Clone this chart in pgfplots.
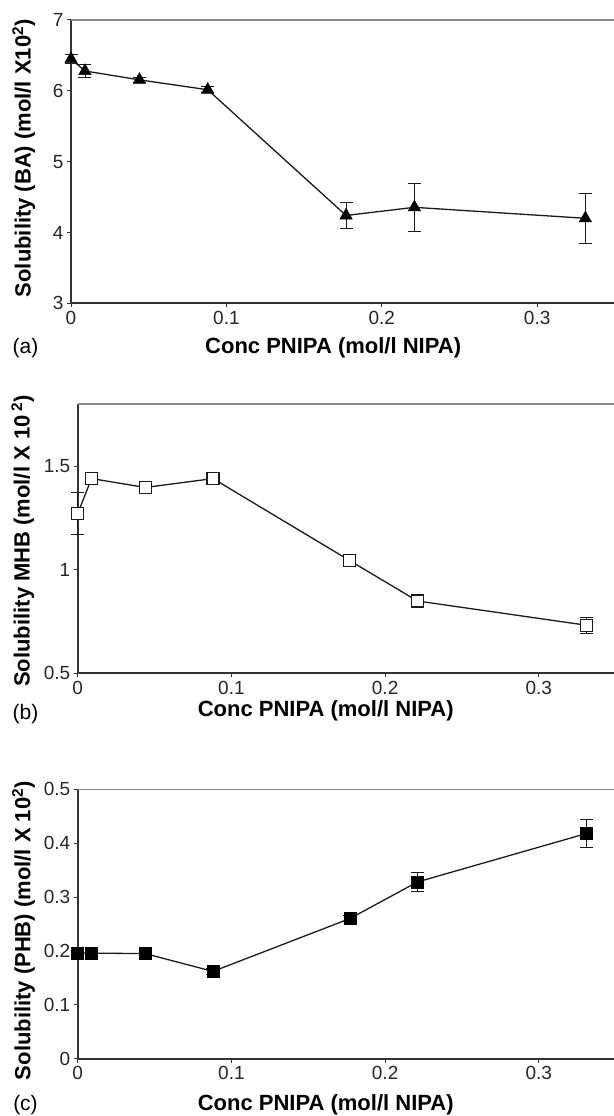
\documentclass[border=0pt]{standalone}
\usepackage{fontspec}
\setmainfont{Liberation Sans}
\usepackage{pgfplots}
\pgfplotsset{compat=1.18}
\definecolor{axdark}{HTML}{333333}
\definecolor{axgray}{HTML}{8A8A8A}
\definecolor{serie}{HTML}{1A1A1A}

\pgfplotsset{panel/.style={
  scale only axis, clip=false,
  xmin=0, xmax=0.35, xtick={0,0.1,0.2,0.3},
  axis x line*=bottom, axis y line*=left,
  axis line style={axdark, line width=1.7pt, -},
  tick style={axdark, line width=1pt},
  tick align=outside, major tick length=4pt,
  tick label style={font=\fontsize{19}{21}\selectfont, text=black!85},
  /pgf/number format/assume math mode=true,
  label style={font=\fontsize{22}{24}\selectfont\bfseries},
  every axis plot/.append style={serie, line width=1.3pt},
  error bars/y dir=both, error bars/y explicit,
  error bars/error bar style={line width=0.9pt, serie},
  error bars/error mark options={rotate=90, mark size=6.5pt, line width=0.9pt, serie},
  after end axis/.code={\draw[axgray, line width=1.6pt] (rel axis cs:0,1) -- (rel axis cs:1,1) -- (rel axis cs:1,0);},
}}

\begin{document}
\begin{tikzpicture}[x=1pt,y=1pt]
\path[use as bounding box] (0,0) rectangle (613,1116);

% (a) BA
\begin{axis}[panel, at={(71pt,812.7pt)}, anchor=south west,
  width=543.9pt, height=283.3pt,
  ymin=3, ymax=7, ytick={3,4,5,6,7},
  xlabel={Conc PNIPA (mol/l NIPA)},
  ylabel={Solubility (BA) (mol/l X10\textsuperscript{2})},
  xlabel style={at={(axis description cs:0.482,-0.158)}, anchor=center},
  ylabel style={at={(axis description cs:-0.087,0.512)}, anchor=center},
]
\addplot[mark=triangle*, mark size=7.2pt, mark options={fill=black, draw=black, line width=0.4pt}]
  coordinates {
  (0,6.45) +- (0,0.07)
  (0.009,6.28) +- (0,0.09)
  (0.044,6.155) +- (0,0.03)
  (0.088,6.015) +- (0,0.04)
  (0.177,4.24) +- (0,0.19)
  (0.221,4.355) +- (0,0.34)
  (0.331,4.20) +- (0,0.35)
  };
\end{axis}

% (b) MHB
\begin{axis}[panel, at={(77.7pt,442.7pt)}, anchor=south west,
  width=538pt, height=269.3pt,
  ymin=0.5, ymax=1.8, ytick={0.5,1,1.5},
  xlabel={Conc PNIPA (mol/l NIPA)},
  ylabel={Solubility MHB (mol/l X 10\,\textsuperscript{2})},
  xlabel style={at={(axis description cs:0.461,-0.14)}, anchor=center},
  ylabel style={at={(axis description cs:-0.102,0.491)}, anchor=center},
]
\addplot[mark=square*, mark size=6pt, mark options={fill=white, draw=serie, line width=1.4pt}]
  coordinates {
  (0,1.271) +- (0,0.10)
  (0.009,1.44) +- (0,0.03)
  (0.044,1.397) +- (0,0.01)
  (0.088,1.44) +- (0,0.025)
  (0.177,1.044) +- (0,0.01)
  (0.221,0.849) +- (0,0.015)
  (0.331,0.732) +- (0,0.038)
  };
\end{axis}

% (c) PHB
\begin{axis}[panel, at={(77.7pt,57.3pt)}, anchor=south west,
  width=538pt, height=269.4pt,
  ymin=0, ymax=0.5, ytick={0,0.1,0.2,0.3,0.4,0.5},
  xlabel={Conc PNIPA (mol/l NIPA)},
  ylabel={Solubility (PHB) (mol/l X 10\textsuperscript{2})},
  xlabel style={at={(axis description cs:0.461,-0.171)}, anchor=center},
  ylabel style={at={(axis description cs:-0.1007,0.475)}, anchor=center},
]
\addplot[mark=square*, mark size=6pt, mark options={fill=black, draw=black, line width=0.4pt}]
  coordinates {
  (0,0.196) +- (0,0.004)
  (0.009,0.196) +- (0,0.004)
  (0.044,0.195) +- (0,0.004)
  (0.088,0.162) +- (0,0.005)
  (0.177,0.26) +- (0,0.005)
  (0.221,0.328) +- (0,0.018)
  (0.331,0.418) +- (0,0.026)
  };
\end{axis}

\node[font=\fontsize{21}{24}\selectfont] at (25.5,768) {(a)};
\node[font=\fontsize{21}{24}\selectfont] at (25.5,402) {(b)};
\node[font=\fontsize{21}{24}\selectfont] at (25.5,11) {(c)};
\end{tikzpicture}
\end{document}
